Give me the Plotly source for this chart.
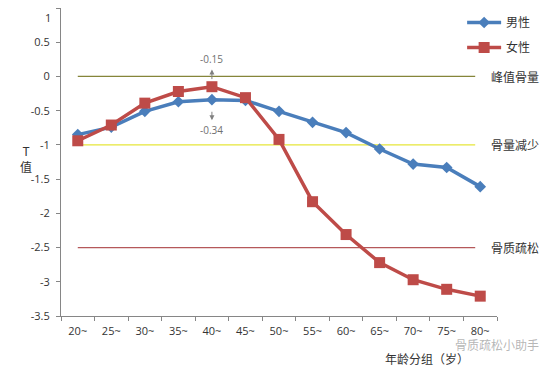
import plotly.graph_objects as go

categories = ["20~", "25~", "30~", "35~", "40~", "45~", "50~", "55~", "60~", "65~", "70~", "75~", "80~"]
male = [-0.85, -0.74, -0.51, -0.37, -0.34, -0.35, -0.51, -0.67, -0.82, -1.06, -1.28, -1.33, -1.61]
female = [-0.94, -0.71, -0.39, -0.22, -0.15, -0.31, -0.92, -1.83, -2.31, -2.72, -2.97, -3.11, -3.21]
ref_values = [0, -1, -2.5]
ref_labels = ["峰值骨量", "骨量减少", "骨质疏松"]
ref_colors = ["#85853A", "#E6E63A", "#B5585A"]
y_ticks = [1, 0.5, 0, -0.5, -1, -1.5, -2, -2.5, -3, -3.5]

cjk = "Noto Sans CJK SC"
num_font = "Open Sans"
tick_font = dict(family=num_font, size=11, color="#333333")

fig = go.Figure()
fig.add_trace(go.Scatter(x=categories, y=male, name="男性", mode="lines+markers",
                         legendgroup="m",
                         line=dict(color="#4A7EBB", width=3.5),
                         marker=dict(symbol="diamond", size=9, color="#4A7EBB")))
fig.add_trace(go.Scatter(x=categories, y=female, name="女性", mode="lines+markers",
                         legendgroup="f",
                         line=dict(color="#BE4B48", width=3.5),
                         marker=dict(symbol="square", size=11, color="#BE4B48")))

for v, lab, c in zip(ref_values, ref_labels, ref_colors):
    fig.add_shape(type="line", xref="x", yref="y", x0=0, x1=11.85, y0=v, y1=v,
                  line=dict(color=c, width=1.3), layer="below")
    fig.add_annotation(xref="x", yref="y", x=12.25, y=v, text=lab, showarrow=False,
                       xanchor="left", yanchor="middle", font=dict(family=cjk, size=12, color="#333333"))

# annotations for the peak values at 40~
fig.add_annotation(xref="x", yref="y", x=4, y=0.1, ax=0, ay=11, text="", showarrow=True,
                   arrowhead=2, arrowsize=1, arrowwidth=1, arrowcolor="#808080")
fig.add_annotation(xref="x", yref="y", x=4, y=0.25, text=str(female[4]), showarrow=False,
                   font=dict(family=num_font, size=10, color="#707070"))
fig.add_annotation(xref="x", yref="y", x=4, y=-0.64, ax=0, ay=-10, text="", showarrow=True,
                   arrowhead=2, arrowsize=1, arrowwidth=1, arrowcolor="#808080")
fig.add_annotation(xref="x", yref="y", x=4, y=-0.78, text=str(male[4]), showarrow=False,
                   font=dict(family=num_font, size=10, color="#707070"))

# top y tick label (placed just below the plot's top edge so it stays on the page)
top_tick = y_ticks[0]
fig.add_annotation(xref="paper", yref="y", x=0, y=top_tick, xshift=-8, text=str(top_tick),
                   showarrow=False, xanchor="right", yanchor="top", font=tick_font)

# axis titles
fig.add_annotation(xref="paper", yref="paper", x=-0.099, y=0.51, text="T<br>值", showarrow=False,
                   font=dict(family=cjk, size=12, color="#333333"), align="center")
fig.add_annotation(xref="paper", yref="paper", x=0.84, y=-0.138, text="年龄分组（岁）", showarrow=False,
                   font=dict(family=cjk, size=12, color="#333333"), xanchor="center", yanchor="middle")
fig.add_annotation(xref="paper", yref="paper", x=1.10, y=-0.093, text="骨质疏松小助手", showarrow=False,
                   font=dict(family=cjk, size=12, color="rgba(120,120,120,0.55)"), yanchor="middle", xanchor="right")

fig.update_layout(
    width=556, height=368,
    margin=dict(l=53, r=67, t=0, b=60),
    paper_bgcolor="white", plot_bgcolor="white",
    showlegend=True,
    legend=dict(x=0.92, y=1.0, xanchor="left", yanchor="top", bgcolor="rgba(0,0,0,0)",
                font=dict(family=cjk, size=12, color="#333333"), itemwidth=34, tracegroupgap=6),
    xaxis=dict(type="category", tickson="boundaries", ticks="outside", ticklen=4, automargin=False,
               tickcolor="#868686", showline=True, linecolor="#868686", linewidth=1,
               showgrid=False, zeroline=False, range=[-0.5, 12.5], ticklabelstandoff=5,
               tickfont=tick_font),
    yaxis=dict(range=[-3.5, 1], tickvals=y_ticks,
               ticktext=["" if t == top_tick else str(t) for t in y_ticks], automargin=False,
               ticks="outside", ticklen=4, tickcolor="#868686", showline=True,
               linecolor="#868686", linewidth=1, showgrid=False, zeroline=False, ticklabelstandoff=4,
               tickfont=tick_font),
)

fig.write_html("out.html")
